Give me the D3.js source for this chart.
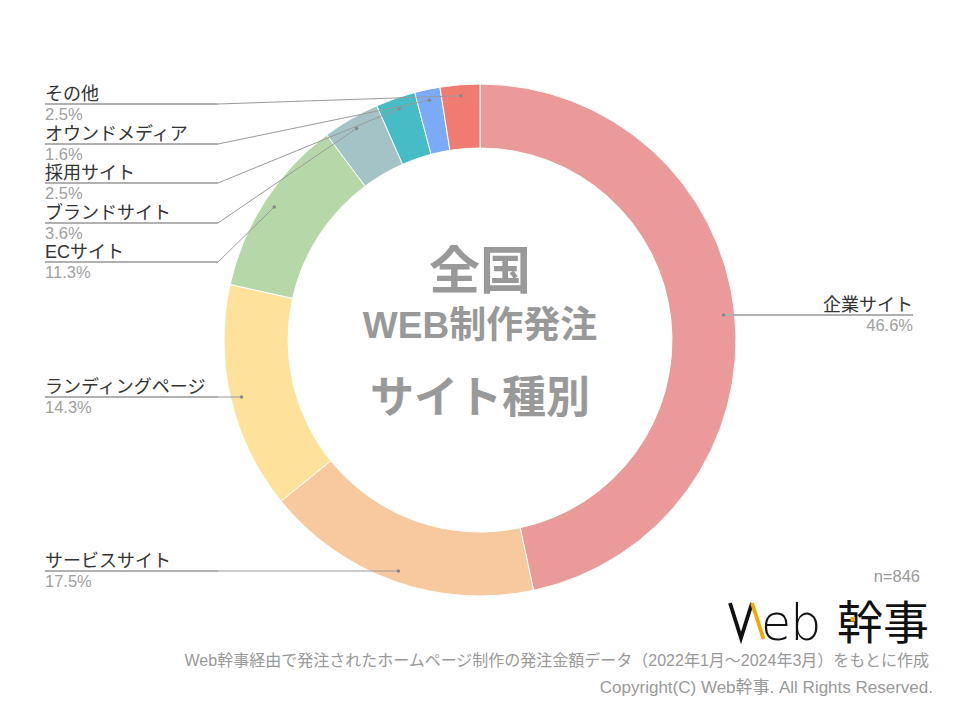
<!DOCTYPE html>
<html><head><meta charset="utf-8">
<script src="https://cdn.jsdelivr.net/npm/d3@7/dist/d3.min.js"></script>
<style>
html,body{margin:0;padding:0;background:#fff;}
svg{display:block;}
text{font-family:"Liberation Sans",Arial,"Noto Sans CJK JP",sans-serif;}
</style></head>
<body>
<svg id="c" width="960" height="720"></svg>
<script>
const categories = ["企業サイト","サービスサイト","ランディングページ","ECサイト","ブランドサイト","採用サイト","オウンドメディア","その他"];
const values = [46.6, 17.5, 14.3, 11.3, 3.6, 2.5, 1.6, 2.5];
const colors = ["#E99A99","#F8C99E","#FEE29B","#B6D7A8","#A3C3C7","#46BDC6","#7BAAF7","#F07B72"];
const centerTitle = ["全国","WEB制作発注","サイト種別"];
const sampleNote = "n=846";
const footNote = "Web幹事経由で発注されたホームページ制作の発注金額データ（2022年1月～2024年3月）をもとに作成";
const copyright = "Copyright(C) Web幹事. All Rights Reserved.";

// label layout (line y for each category), side
const labelLayout = [
  {side:"R", y:315},
  {side:"L", y:571},
  {side:"L", y:397},
  {side:"L", y:262},
  {side:"L", y:223},
  {side:"L", y:183},
  {side:"L", y:144},
  {side:"L", y:104}
];

const svg = d3.select("#c");
const cx = 480, cy = 340, R = 256, r0 = 192;
const g = svg.append("g").attr("transform",`translate(${cx},${cy})`);

const pie = d3.pie().sort(null).value(d=>d).startAngle(0).endAngle(2*Math.PI);
const arcs = pie(values);
const arc = d3.arc().innerRadius(r0).outerRadius(R);
g.selectAll("path.slice").data(arcs).enter().append("path")
  .attr("class","slice")
  .attr("d",arc)
  .attr("fill",(d,i)=>colors[i])
  .attr("stroke","#fff").attr("stroke-width",1);

const dotArc = d3.arc().innerRadius(245).outerRadius(245);
const fmt = d3.format(".1f");
const lineColor = "#9a9a9a";
arcs.forEach((a,i)=>{
  const [dx,dy] = dotArc.centroid(a);
  const px = cx+dx, py = cy+dy;
  const L = labelLayout[i];
  let pts, dot;
  if (L.side==="R") {
    pts = [[px,L.y],[913,L.y]]; dot=[px,L.y];
  } else if (Math.abs(py-L.y)<3) {
    pts = [[45,L.y],[px,L.y]]; dot=[px,L.y];
  } else {
    pts = [[45,L.y],[218,L.y],[px,py]]; dot=[px,py];
  }
  const hx0 = L.side==="R"?px:45, hx1 = L.side==="R"?913:Math.min(218,pts[1][0]);
  svg.append("path").attr("d",d3.line()([[hx0,L.y],[hx1,L.y]]))
    .attr("fill","none").attr("stroke","#c8c8c8").attr("stroke-width",1.8);
  svg.append("path").attr("d",d3.line()(pts)).attr("fill","none")
    .attr("stroke",lineColor).attr("stroke-width",1);
  svg.append("circle").attr("cx",dot[0]).attr("cy",dot[1]).attr("r",1.8).attr("fill","#888");
  const anchor = L.side==="R"?"end":"start";
  const tx = L.side==="R"?913:45;
  svg.append("text").attr("x",tx).attr("y",L.y-4).attr("text-anchor",anchor)
    .attr("font-size",18).attr("fill","#333").text(categories[i]);
  svg.append("text").attr("x",tx).attr("y",L.y+16).attr("text-anchor",anchor)
    .attr("font-size",16.5).attr("fill","#a0a0a0").text(fmt(values[i])+"%");
});

// center title
const ctf = "'Liberation Sans',Arial,'Noto Sans CJK JP',sans-serif";
svg.append("text").attr("x",cx).attr("y",289).attr("text-anchor","middle")
  .attr("font-size",51).attr("font-weight","bold").attr("fill","#999").style("font-family",ctf).text(centerTitle[0]);
svg.append("text").attr("x",cx).attr("y",338).attr("text-anchor","middle")
  .attr("font-size",37).attr("font-weight","bold").attr("fill","#999").style("font-family",ctf).text(centerTitle[1]);
svg.append("text").attr("x",cx).attr("y",413).attr("text-anchor","middle")
  .attr("font-size",44).attr("font-weight","bold").attr("fill","#999").style("font-family",ctf).text(centerTitle[2]);

// notes
svg.append("text").attr("x",920).attr("y",582).attr("text-anchor","end")
  .attr("font-size",16.5).attr("fill","#999").text(sampleNote);

// logo
const logo = svg.append("g");
logo.append("path").attr("d","M730,603 L741,638 L752,603").attr("fill","none").attr("stroke","#111").attr("stroke-width",3.8).attr("stroke-linejoin","miter");
logo.append("path").attr("d","M752,603 L763.5,639").attr("fill","none").attr("stroke","#F5A800").attr("stroke-width",3.8);
logo.append("text").attr("x",761).attr("y",640).attr("font-size",49).attr("fill","#111")
  .style("font-family","'DejaVu Sans','Noto Sans',sans-serif").style("font-weight",300).style("letter-spacing","-1px").text("eb");
logo.append("text").attr("x",837).attr("y",639).attr("font-size",46).attr("fill","#111")
  .style("font-family","'Noto Sans CJK JP',sans-serif").style("font-weight",400).text("幹事");
logo.append("rect").attr("x",850.5).attr("y",617).attr("width",4.5).attr("height",4.5).attr("fill","#F5A800");

svg.append("text").attr("x",929).attr("y",666).attr("text-anchor","end")
  .attr("font-size",16).attr("fill","#999").text(footNote);
svg.append("text").attr("x",933).attr("y",693).attr("text-anchor","end")
  .attr("font-size",17).attr("fill","#999").text(copyright);
</script>
</body></html>
